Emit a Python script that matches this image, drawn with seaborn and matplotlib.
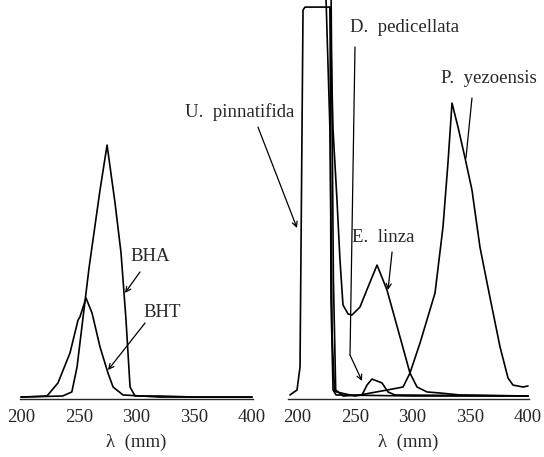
import matplotlib
matplotlib.use("Agg")
import matplotlib.pyplot as plt
import seaborn as sns
import pandas as pd

# --- left panel: synthetic antioxidants (wavelength nm, absorbance a.u.) ---
bha_nm = [200, 236, 244, 248.5, 259, 268.4, 274.5, 281.4, 286.6, 290.9, 294.4, 298.7, 320, 350, 400]
bha_abs = [0.013, 0.02, 0.047, 0.213, 0.88, 1.393, 1.693, 1.307, 0.973, 0.527, 0.08, 0.02, 0.02, 0.013, 0.013]

bht_nm = [200, 222.5, 232, 242.4, 249.4, 251, 256.3, 261.5, 268.4, 275.3, 279.7, 288.3, 320, 400]
bht_abs = [0.013, 0.02, 0.107, 0.307, 0.527, 0.547, 0.673, 0.573, 0.347, 0.173, 0.08, 0.027, 0.013, 0.013]

# --- right panel: seaweed extracts ---
up_nm = [193.9, 200, 202.6, 205.2, 206.9, 228.6, 229.4, 231.2, 233.8, 300, 400]
up_abs = [0.027, 0.06, 0.213, 2.593, 2.613, 2.613, 0.66, 0.06, 0.027, 0.02, 0.02]

el_nm = [228.6, 231.2, 234.6, 237.2, 239.8, 244.2, 247.6, 254.5, 261.5, 269.3, 277.9,
         289.2, 297.8, 303.9, 312.6, 323.8, 341.1, 400]
el_abs = [2.613, 1.793, 1.327, 0.927, 0.627, 0.567, 0.56, 0.613, 0.747, 0.893, 0.727,
          0.413, 0.173, 0.08, 0.047, 0.04, 0.027, 0.02]

dp_nm = [225, 228.5, 230.5, 232.5, 250, 256.3, 260.6, 264.9, 269.3, 273.6, 278.8, 284.8, 400]
dp_abs = [2.7, 1.8, 0.4, 0.05, 0.02, 0.027, 0.093, 0.133, 0.12, 0.107, 0.047, 0.027, 0.02]

py_nm = [229.5, 231.5, 233.5, 240, 254.5, 278, 291.8, 297.8, 306.5, 319.5, 326.4, 330.7,
         334.2, 339.4, 345.5, 351.5, 358.4, 367, 375.8, 382.7, 387, 395.7, 400]
py_abs = [2.7, 0.8, 0.06, 0.02, 0.027, 0.06, 0.08, 0.173, 0.373, 0.707, 1.147, 1.573,
          1.973, 1.813, 1.607, 1.393, 1.013, 0.68, 0.347, 0.14, 0.093, 0.08, 0.087]

ticks = [200, 250, 300, 350, 400]
xlabel = "λ  (mm)"

sns.set_style("white")
plt.rcParams["font.family"] = ["Liberation Serif", "DejaVu Serif"]
plt.rcParams["font.size"] = 13.5

fig = plt.figure(figsize=(5.44, 4.57), dpi=100)
ax1 = fig.add_axes([0.0365, 0.1269, 0.4289, 0.873])
ax2 = fig.add_axes([0.529, 0.1269, 0.4437, 0.873])

line_kw = dict(color="black", linewidth=1.2, sort=False, estimator=None, legend=False)

for nm, ab in [(bha_nm, bha_abs), (bht_nm, bht_abs)]:
    sns.lineplot(x=nm, y=ab, ax=ax1, **line_kw)
for nm, ab in [(up_nm, up_abs), (el_nm, el_abs), (dp_nm, dp_abs), (py_nm, py_abs)]:
    sns.lineplot(x=nm, y=ab, ax=ax2, **line_kw)

ax1.set_xlim(199, 401)
ax2.set_xlim(192, 401)

for ax in (ax1, ax2):
    ax.set_ylim(0, 2.66)
    ax.set_xticks(ticks)
    ax.set_yticks([])
    ax.set_xlabel(xlabel, labelpad=5)
    ax.set_ylabel("")
    for s in ("top", "right", "left"):
        ax.spines[s].set_visible(False)
    ax.spines["bottom"].set_linewidth(1.0)
    ax.tick_params(axis="x", direction="inout", length=5, width=1, pad=5, labelsize=13.5)
    ax.patch.set_alpha(0)

arrow = dict(arrowstyle="->", color="black", lw=0.9, shrinkA=0, shrinkB=0,
             mutation_scale=9)

ax1.text(311.7, 0.947, "BHA", ha="center", va="center")
ax1.annotate("", xy=(290, 0.707), xytext=(303, 0.847), arrowprops=arrow)
ax1.text(322, 0.58, "BHT", ha="center", va="center")
ax1.annotate("", xy=(275.3, 0.193), xytext=(307.4, 0.507), arrowprops=arrow)

ax2.text(150.6, 1.913, "U.  pinnatifida", ha="center", va="center", clip_on=False)
ax2.annotate("", xy=(200, 1.14), xytext=(166.2, 1.813), arrowprops=arrow,
             annotation_clip=False)

ax2.text(293.5, 2.48, "D.  pedicellata", ha="center", va="center")
ax2.plot([250.2, 245.9], [2.347, 0.293], color="black", lw=0.9)
ax2.annotate("", xy=(256.3, 0.12), xytext=(245.9, 0.293), arrowprops=arrow)

ax2.text(274.5, 1.08, "E.  linza", ha="center", va="center")
ax2.annotate("", xy=(278.8, 0.727), xytext=(282.3, 0.98), arrowprops=arrow)

ax2.text(366.2, 2.14, "P.  yezoensis", ha="center", va="center")
ax2.plot([351.5, 346.3], [2.007, 1.607], color="black", lw=0.9)

fig.savefig("out.png", dpi=100)
